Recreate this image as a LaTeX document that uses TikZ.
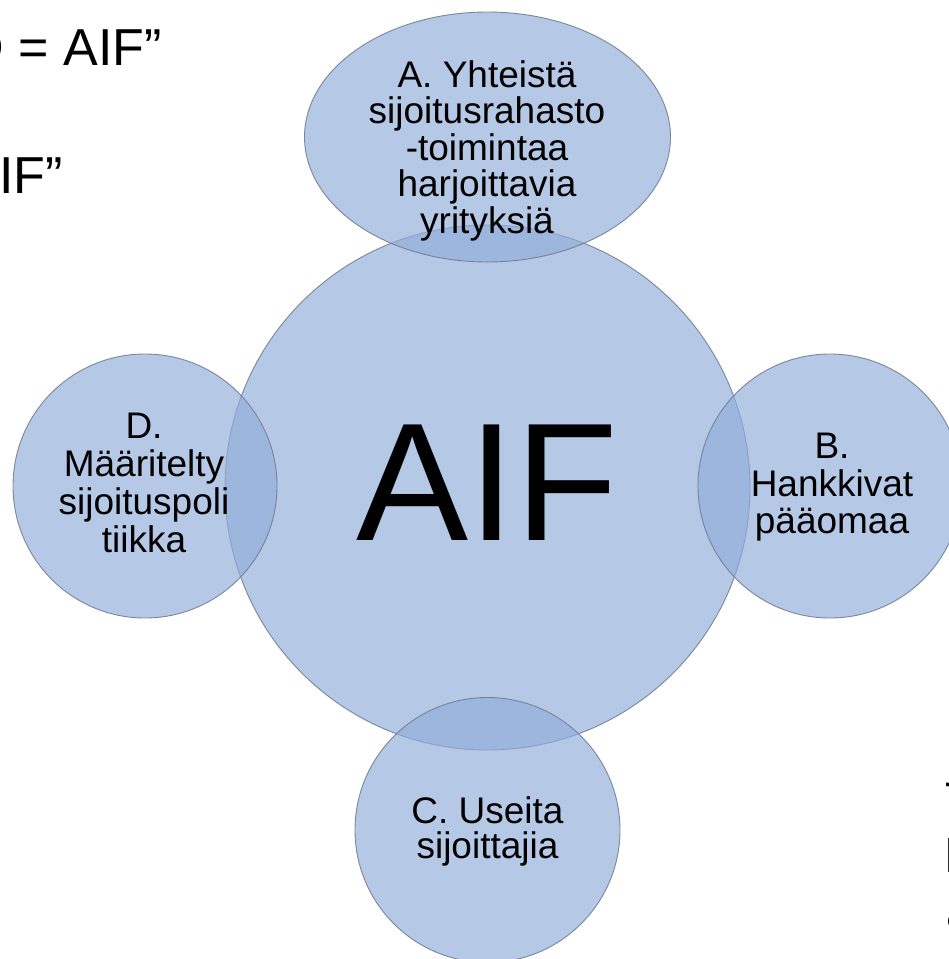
\documentclass[tikz,border=0pt]{standalone}
\usepackage{fontspec}
\setmainfont{Liberation Sans}
\definecolor{bubblefill}{RGB}{146,174,218}
\definecolor{bubbleline}{RGB}{112,126,150}
\tikzset{
  bubble/.style={fill=bubblefill, fill opacity=0.68, draw=bubbleline, draw opacity=0.9, line width=0.9pt},
  lbl/.style={align=center, inner sep=0pt, text=black, anchor=north},
  bgtext/.style={inner sep=0pt, text=black}
}
\begin{document}
\begin{tikzpicture}[x=1pt,y=-1pt]
\useasboundingbox (0,0) rectangle (949,959);
\clip (0,0) rectangle (949,959);
\fill[white] (0,0) rectangle (949,959);
% background slide text (cut off)
\node[bgtext, anchor=base east, font=\fontsize{52}{60}\selectfont] (t1) at (162,65) {D = AIF”};
\node[bgtext, anchor=base east, font=\fontsize{52}{60}\selectfont] (t2) at (63,193) {AIF”};
\node[bgtext, anchor=base west, font=\fontsize{47}{56}\selectfont] (r1) at (945,815) {T};
\node[bgtext, anchor=base west, font=\fontsize{47}{56}\selectfont] (r2) at (945,872) {l};
\node[bgtext, anchor=base west, font=\fontsize{47}{56}\selectfont] (r3) at (946,928) {a};
% shapes
\draw[bubble] (487.5,487.5) circle[radius=262.5];
\draw[bubble] (487.5,137) ellipse[x radius=183, y radius=125];
\draw[bubble] (830,486) circle[radius=132];
\draw[bubble] (487.5,830) circle[radius=132.5];
\draw[bubble] (145,486) circle[radius=132];
% texts
\node[bgtext, anchor=base, font=\fontsize{168}{170}\selectfont] (aif) at (487.5,540) {AIF};
\node[lbl, font=\fontsize{37}{36.5}\selectfont] (a) at (487,60) {A. Yhteistä\\sijoitusrahasto\\-toimintaa\\harjoittavia\\yrityksiä};
\node[lbl, font=\fontsize{37}{37.5}\selectfont] (b) at (832,433) {B.\\Hankkivat\\pääomaa};
\node[lbl, font=\fontsize{37}{35.5}\selectfont] (c) at (487.5,796) {C. Useita\\sijoittajia};
\node[lbl, font=\fontsize{37}{38}\selectfont] (d) at (144,413) {D.\\Määritelty\\sijoituspoli\\tiikka};
\end{tikzpicture}
\end{document}
